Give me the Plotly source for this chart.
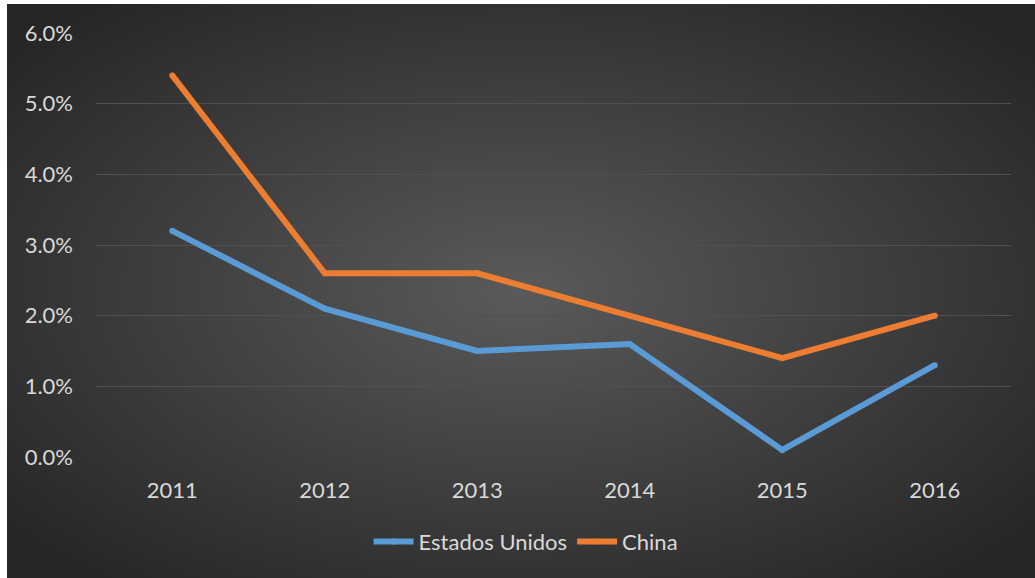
import base64
import plotly.graph_objects as go

years = ["2011", "2012", "2013", "2014", "2015", "2016"]
estados_unidos = [3.2, 2.1, 1.5, 1.6, 0.1, 1.3]
china = [5.4, 2.6, 2.6, 2.0, 1.4, 2.0]
y_ticks = [0, 1, 2, 3, 4, 5, 6]
y_tick_labels = ["0.0%", "1.0%", "2.0%", "3.0%", "4.0%", "5.0%", "6.0%"]

W, H = 1035, 578
L, R, T, B = 96, 24, 33, 121
pw, ph = W - L - R, H - T - B

svg = (
    '<svg xmlns="http://www.w3.org/2000/svg" width="400" height="220" preserveAspectRatio="none" viewBox="0 0 400 220">'
    '<defs><radialGradient id="g" cx="50%" cy="50%" r="65%">'
    '<stop offset="0%" stop-color="#5a5a5a"/>'
    '<stop offset="100%" stop-color="#262626"/>'
    '</radialGradient></defs>'
    '<rect width="400" height="220" fill="url(#g)"/></svg>'
)
src = "data:image/svg+xml;base64," + base64.b64encode(svg.encode()).decode()

x0, x1 = (7 - L) / pw, (W - L) / pw
y_top, y_bot = (H - B - 4) / ph, (H - B - H) / ph

font = dict(family="Lato, Open Sans, sans-serif", size=22, color="#d9d9d9")

fig = go.Figure()
fig.add_trace(go.Scatter(x=years, y=estados_unidos, name="Estados Unidos", mode="lines+markers",
                         line=dict(color="#5B9BD5", width=6),
                         marker=dict(size=6, color="#5B9BD5", line=dict(width=0))))
fig.add_trace(go.Scatter(x=years, y=china, name="China", mode="lines+markers",
                         line=dict(color="#ED7D31", width=6),
                         marker=dict(size=6, color="#ED7D31", line=dict(width=0))))

fig.update_layout(
    width=W, height=H,
    margin=dict(l=L, r=R, t=T, b=B),
    paper_bgcolor="white",
    plot_bgcolor="rgba(0,0,0,0)",
    font=font,
    images=[dict(source=src, xref="paper", yref="paper", x=x0, y=y_top,
                 sizex=x1 - x0, sizey=y_top - y_bot, sizing="stretch",
                 xanchor="left", yanchor="top", layer="below")],
    xaxis=dict(type="category", range=[-0.5, 5.5], showgrid=False, zeroline=False,
               showline=False, ticks="", ticklabelstandoff=18, tickfont=font),
    yaxis=dict(range=[0, 6], tickvals=y_ticks, ticktext=y_tick_labels,
               showgrid=True, gridcolor="#505050", gridwidth=1.3, zeroline=False,
               showline=False, ticks="", ticklabelstandoff=22, tickfont=font),
    legend=dict(orientation="h", x=0.47, xanchor="center", y=-0.2, yanchor="middle",
                font=font, bgcolor="rgba(0,0,0,0)", itemwidth=40),
    showlegend=True,
)

fig.write_html("out.html", config={"displayModeBar": False},
               post_script="document.body.style.margin='0';document.body.style.padding='0';")
